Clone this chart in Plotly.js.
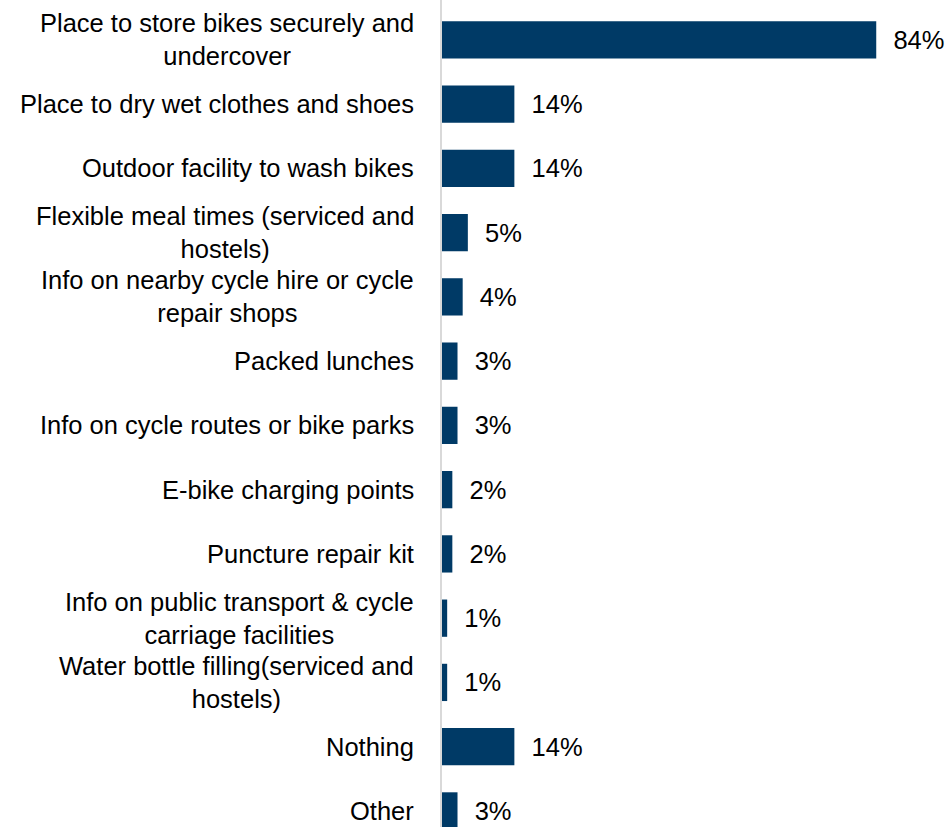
<!DOCTYPE html>
<html>
<head>
<meta charset="utf-8">
<script src="https://cdn.plot.ly/plotly-3.0.1.min.js"></script>
<style>html,body{margin:0;padding:0;background:#fff;}#chart{width:945px;height:827px;}</style>
</head>
<body>
<div id="chart"></div>
<script>
const categories = [
  "Place to store bikes securely and<br>undercover",
  "Place to dry wet clothes and shoes",
  "Outdoor facility to wash bikes",
  "Flexible meal times (serviced and<br>hostels)",
  "Info on nearby cycle hire or cycle<br>repair shops",
  "Packed lunches",
  "Info on cycle routes or bike parks",
  "E-bike charging points",
  "Puncture repair kit",
  "Info on public transport & cycle<br>carriage facilities",
  "Water bottle filling(serviced and<br>hostels)",
  "Nothing",
  "Other"
];
const values = [84, 14, 14, 5, 4, 3, 3, 2, 2, 1, 1, 14, 3];

const FONT = "Liberation Sans, Arial, sans-serif";
const FS = 25.5;
const ids = categories.map((c, i) => "c" + i);

const trace = {
  type: "bar",
  orientation: "h",
  x: values,
  y: ids,
  marker: {color: "#003a66", line: {width: 0}},
  width: 0.58,
  text: values.map(v => "\u00a0\u00a0" + v + "%"),
  textposition: "outside",
  cliponaxis: false,
  textfont: {family: FONT, size: FS, color: "#000"},
  hoverinfo: "skip"
};

const annotations = categories.map((c, i) => ({
  xref: "paper", yref: "y",
  x: 0, y: ids[i],
  xanchor: "right", yanchor: "middle",
  xshift: -26,
  align: "center",
  showarrow: false,
  text: c,
  font: {family: FONT, size: FS, color: "#000"}
}));

const layout = {
  width: 945, height: 827,
  margin: {l: 442, r: 0, t: 0, b: 0, pad: 0},
  paper_bgcolor: "#fff", plot_bgcolor: "#fff",
  showlegend: false,
  xaxis: {range: [0, 97.3], visible: false, fixedrange: true},
  yaxis: {
    type: "category",
    categoryorder: "array", categoryarray: ids,
    range: [12.25, -0.62],
    showticklabels: false, ticks: "",
    showgrid: false, zeroline: false,
    showline: true, linecolor: "#d9d9d9", linewidth: 2
  },
  annotations: annotations,
  font: {family: FONT, size: FS, color: "#000"}
};

Plotly.newPlot("chart", [trace], layout, {displayModeBar: false, staticPlot: true});
</script>
</body>
</html>
